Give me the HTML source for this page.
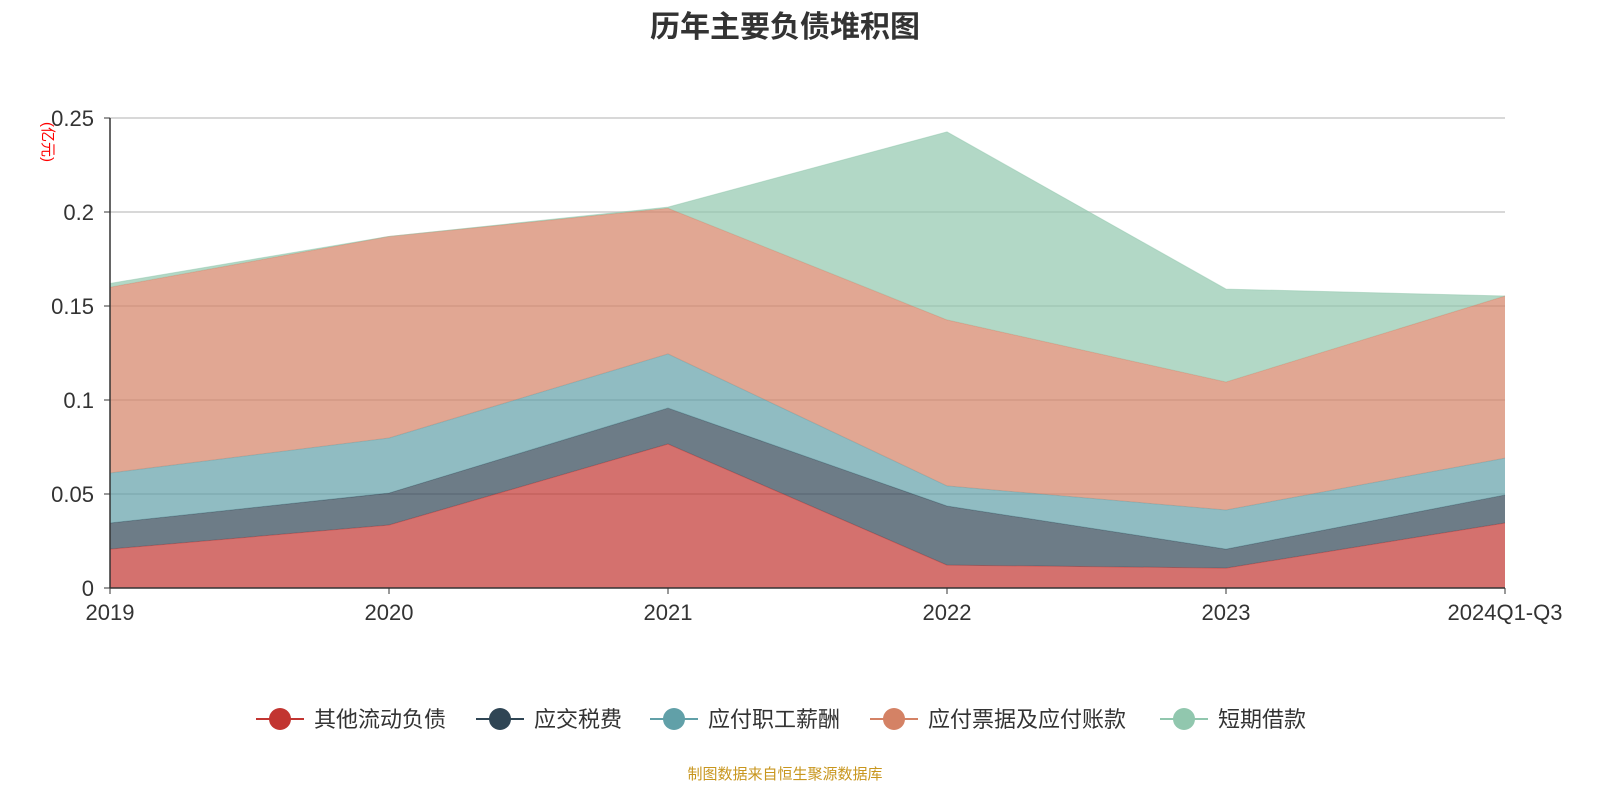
<!DOCTYPE html>
<html><head><meta charset="utf-8"><style>
body{margin:0;background:#fff;width:1600px;height:800px;overflow:hidden;font-family:"Liberation Sans","Noto Sans CJK SC",sans-serif;}
</style></head><body>
<svg id="chart" width="1600" height="800" xmlns="http://www.w3.org/2000/svg" font-family="Liberation Sans, Noto Sans CJK SC, sans-serif">
<text x="785" y="37" text-anchor="middle" font-size="30" font-weight="bold" fill="#333">历年主要负债堆积图</text>
<text transform="translate(43,142) rotate(90)" text-anchor="middle" font-size="15" fill="red">(亿元)</text>
<g id="grid"></g><g id="areas"></g><g id="axes"></g><g id="legend"></g>
<text x="785" y="779" text-anchor="middle" font-size="15" fill="#c8961e">制图数据来自恒生聚源数据库</text>
</svg>
<script>
const categories=["2019","2020","2021","2022","2023","2024Q1-Q3"];
const seriesNames=["其他流动负债","应交税费","应付职工薪酬","应付票据及应付账款","短期借款"];
const otherCurrent=[0.0207,0.0335,0.0766,0.0122,0.0106,0.0346];
const taxes=[0.0139,0.017,0.0191,0.0314,0.0101,0.0149];
const salaries=[0.0266,0.0293,0.0288,0.0107,0.0208,0.0196];
const payables=[0.0988,0.1072,0.0775,0.0883,0.0681,0.0862];
const shortLoans=[0.002,0,0.0006,0.1,0.0494,0];
const yTicks=[0,0.05,0.1,0.15,0.2,0.25];
const yTickLabels=["0","0.05","0.1","0.15","0.2","0.25"];
const colors=["#c23531","#2f4554","#61a0a8","#d48265","#91c7ae"];
const NS="http://www.w3.org/2000/svg";
const X0=110,X1=1505,Y0=588,Y1=118;
const xs=i=>X0+(X1-X0)*i/(categories.length-1);
const ys=v=>Y0-(Y0-Y1)*v/0.25;
function mk(tag,attrs,parent){const e=document.createElementNS(NS,tag);for(const k in attrs)e.setAttribute(k,attrs[k]);parent.appendChild(e);return e;}
const grid=document.getElementById('grid'),axes=document.getElementById('axes'),areas=document.getElementById('areas'),legend=document.getElementById('legend');
yTicks.forEach((t,i)=>{
  if(t>0){const l=mk('line',{x1:X0,x2:X1,y1:ys(t),y2:ys(t),stroke:'#ccc','stroke-width':1.5},grid);
  
  }
  const tk=mk('line',{x1:X0-6,x2:X0,y1:ys(t),y2:ys(t),stroke:'#333'},axes);
  
  
  const tx=mk('text',{x:X0-16,y:ys(t)+8,'text-anchor':'end','font-size':22,fill:'#333'},axes);
  tx.textContent=yTickLabels[i];
  
  
});
const all=[otherCurrent,taxes,salaries,payables,shortLoans];
let base=categories.map(()=>0);
all.forEach((s,k)=>{
  const top=base.map((b,i)=>b+s[i]);
  let d='M'+top.map((v,i)=>xs(i)+','+ys(v)).join(' L');
  for(let i=categories.length-1;i>=0;i--)d+=' L'+xs(i)+','+ys(base[i]);
  const p=mk('path',{d:d+'Z',fill:colors[k],'fill-opacity':0.7,stroke:'none'},areas);
  
  
  const ln=mk('polyline',{points:top.map((v,i)=>xs(i)+','+ys(v)).join(' '),fill:'none',stroke:colors[k],'stroke-opacity':0.5,'stroke-width':1},areas);
  
  
  base=top;
});
const ya=mk('line',{x1:X0,x2:X0,y1:Y1,y2:Y0,stroke:'#333','stroke-width':1.5},axes);


const xa=mk('line',{x1:X0,x2:X1,y1:Y0,y2:Y0,stroke:'#333','stroke-width':1.5},axes);


categories.forEach((c,i)=>{
  const tk=mk('line',{x1:xs(i),x2:xs(i),y1:Y0,y2:Y0+6,stroke:'#333'},axes);
  
  
  const tx=mk('text',{x:xs(i),y:Y0+32,'text-anchor':'middle','font-size':22,fill:'#333'},axes);
  tx.textContent=c;
  
  
});
const legX=[256,476,650,870,1160];
seriesNames.forEach((n,k)=>{
  const g=mk('g',{},legend);
  
  
  mk('line',{x1:legX[k],x2:legX[k]+48,y1:719,y2:719,stroke:colors[k],'stroke-width':2},g);
  mk('circle',{cx:legX[k]+24,cy:719,r:11,fill:colors[k]},g);
  const t=mk('text',{x:legX[k]+58,y:727,'font-size':22,fill:'#333'},g);
  t.textContent=n;
});
</script>
</body></html>
